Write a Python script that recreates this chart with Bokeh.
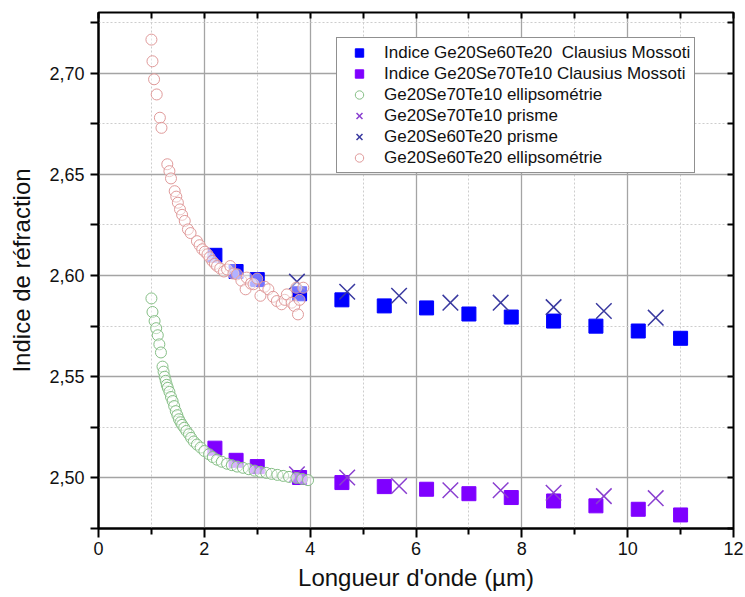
from bokeh.plotting import figure
from bokeh.models import (LinearAxis, FixedTicker, CustomJSTickFormatter, Legend,
                          LegendItem, Range1d, CustomLabelingPolicy)
from bokeh.embed import file_html
from bokeh.resources import INLINE

# ---- data ----
cm_x = [2.2, 2.6, 3.0, 3.8, 4.6, 5.4, 6.2, 7.0, 7.8, 8.6, 9.4, 10.2, 11.0]
cm_6020_y = [2.610, 2.602, 2.598, 2.591, 2.588, 2.585, 2.584, 2.581, 2.5795,
             2.5775, 2.575, 2.5726, 2.569]
cm_7010_y = [2.5147, 2.5087, 2.5056, 2.5002, 2.4977, 2.4957, 2.4944, 2.4922,
             2.4903, 2.4886, 2.4862, 2.4845, 2.4817]

prism_x = [3.75, 4.7, 5.68, 6.65, 7.6, 8.6, 9.55, 10.53]
prism_6020_y = [2.597, 2.592, 2.590, 2.5866, 2.5866, 2.5844, 2.5825, 2.5792]
prism_7010_y = [2.5018, 2.5002, 2.4960, 2.4939, 2.4939, 2.4927, 2.4910, 2.4900]

ell_7010_x = [1.00, 1.02, 1.06, 1.09, 1.12, 1.15, 1.18, 1.21, 1.23, 1.25, 1.27,
              1.29, 1.31, 1.34, 1.37, 1.40, 1.43, 1.46, 1.49, 1.52, 1.55, 1.58,
              1.62, 1.66, 1.71, 1.75, 1.80, 1.86, 1.93, 2.00, 2.09, 2.16, 2.24,
              2.33, 2.43, 2.52, 2.62, 2.73, 2.84, 2.95, 3.06, 3.17, 3.27, 3.38,
              3.49, 3.60, 3.74, 3.85, 3.96]
ell_7010_y = [2.5887, 2.5820, 2.5775, 2.5740, 2.5705, 2.5660, 2.5620, 2.5550,
              2.5525, 2.5500, 2.5480, 2.5460, 2.5445, 2.5425, 2.5400, 2.5380,
              2.5355, 2.5330, 2.5310, 2.5290, 2.5275, 2.5262, 2.5248, 2.5232,
              2.5216, 2.5198, 2.5180, 2.5165, 2.5150, 2.5133, 2.5117, 2.5103,
              2.5090, 2.5080, 2.5070, 2.5063, 2.5056, 2.5050, 2.5043, 2.5036,
              2.5030, 2.5025, 2.5020, 2.5015, 2.5010, 2.5005, 2.5000, 2.4995,
              2.4989]

ell_6020_x = [1.00, 1.02, 1.05, 1.10, 1.16, 1.19, 1.30, 1.34, 1.37, 1.44, 1.47,
              1.50, 1.54, 1.58, 1.63, 1.69, 1.74, 1.86, 1.91, 1.96, 2.01, 2.06,
              2.10, 2.15, 2.20, 2.24, 2.30, 2.37, 2.43, 2.49, 2.55, 2.62, 2.70,
              2.78, 2.80, 2.88, 2.93, 3.00, 3.06, 3.14, 3.21, 3.30, 3.37, 3.46,
              3.52, 3.56, 3.65, 3.70, 3.74, 3.77, 3.80, 3.87]
ell_6020_y = [2.7166, 2.7059, 2.6970, 2.6895, 2.6780, 2.6730, 2.6550, 2.6516,
              2.6480, 2.6417, 2.6390, 2.6360, 2.6327, 2.6300, 2.6270, 2.6228,
              2.6210, 2.6170, 2.6150, 2.6130, 2.6118, 2.6105, 2.6090, 2.6072,
              2.6058, 2.6047, 2.6035, 2.6020, 2.6030, 2.6047, 2.6010, 2.6006,
              2.5975, 2.5932, 2.5990, 2.5960, 2.5957, 2.5985, 2.5900, 2.5945,
              2.5932, 2.5895, 2.5874, 2.5858, 2.5880, 2.5907, 2.5866, 2.5850,
              2.5940, 2.5808, 2.5880, 2.5940]

x_ticks = [0, 2, 4, 6, 8, 10, 12]
x_minor = [1, 3, 5, 7, 9, 11]
y_ticks = [2.50, 2.55, 2.60, 2.65, 2.70]
y_minor = [2.475, 2.525, 2.575, 2.625, 2.675, 2.725]

labels = ["Indice Ge20Se60Te20  Clausius Mossoti",
          "Indice Ge20Se70Te10 Clausius Mossoti",
          "Ge20Se70Te10 ellipsom\u00e9trie",
          "Ge20Se70Te10 prisme",
          "Ge20Se60Te20 prisme",
          "Ge20Se60Te20 ellipsom\u00e9trie"]

FONT = "Liberation Sans"

p = figure(width=744, height=596, output_backend="svg", toolbar_location=None,
           x_range=Range1d(0, 12), y_range=Range1d(2.475, 2.73),
           min_border_left=98, min_border_right=11, min_border_top=12,
           min_border_bottom=68, background_fill_color="white",
           border_fill_color="white")
p.outline_line_color = "black"
p.outline_line_width = 2

# grids
p.xgrid.ticker = FixedTicker(ticks=x_ticks, minor_ticks=x_minor)
p.ygrid.ticker = FixedTicker(ticks=y_ticks, minor_ticks=y_minor)
for g in (p.xgrid, p.ygrid):
    g.grid_line_color = "#a4a4a4"
    g.grid_line_width = 1.3
    g.minor_grid_line_color = "#cdcdcd"
    g.minor_grid_line_dash = "2 2"
    g.minor_grid_line_width = 1

# axes
xa = p.xaxis[0]
xa.ticker = FixedTicker(ticks=x_ticks, minor_ticks=x_minor)
xa.axis_label = "Longueur d'onde (\u00b5m)"
ya = p.yaxis[0]
ya.ticker = FixedTicker(ticks=y_ticks, minor_ticks=y_minor)
ya.formatter = CustomJSTickFormatter(code="return tick.toFixed(2).replace('.', ',');")
ya.axis_label = "Indice de r\u00e9fraction"
for a in (xa, ya):
    a.axis_line_width = 2
    a.axis_line_color = "black"
    a.major_tick_line_width = 2
    a.minor_tick_line_width = 2
    a.major_tick_in = 0
    a.minor_tick_in = 0
    a.major_label_text_font = FONT
    a.major_label_text_font_size = "18px"
    a.major_label_text_color = "#111111"
    a.axis_label_text_font = FONT
    a.axis_label_text_font_size = "24px"
    a.axis_label_text_font_style = "normal"
    a.axis_label_text_color = "#111111"
xa.major_tick_out = 9
xa.minor_tick_out = 6
xa.major_label_standoff = 4
xa.axis_label_standoff = 6
ya.major_tick_out = 8
ya.minor_tick_out = 8
ya.major_label_standoff = 6
ya.axis_label_standoff = 11

no_labels = CustomLabelingPolicy(
    code="for (const i of Array.from(indices)) { indices.unset(i) } return indices")
top = LinearAxis(ticker=FixedTicker(ticks=x_ticks, minor_ticks=x_minor))
right = LinearAxis(ticker=FixedTicker(ticks=y_ticks, minor_ticks=y_minor))
for a in (top, right):
    a.axis_line_color = None
    a.major_tick_out = 0
    a.minor_tick_out = 0
    a.major_tick_in = 6
    a.minor_tick_in = 6
    a.major_tick_line_width = 2
    a.minor_tick_line_width = 2
    a.major_label_text_font_size = "1px"
    a.major_label_standoff = 0
    a.major_label_policy = no_labels
p.add_layout(top, "above")
p.add_layout(right, "right")

# glyphs
r_cm6020 = p.scatter(cm_x, cm_6020_y, marker="square", size=14,
                     fill_color="#0000ff", line_color="#0000ff")
r_cm7010 = p.scatter(cm_x, cm_7010_y, marker="square", size=14,
                     fill_color="#7f00ff", line_color="#7f00ff")
r_pr7010 = p.scatter(prism_x, prism_7010_y, marker="x", size=22,
                     line_color="#8a3fd0", line_width=1.5)
r_pr6020 = p.scatter(prism_x, prism_6020_y, marker="x", size=22,
                     line_color="#3a3aa0", line_width=1.5)
r_el7010 = p.scatter(ell_7010_x, ell_7010_y, marker="circle", size=11,
                     fill_color="white", fill_alpha=0.45,
                     line_color="#86bf86", line_width=1)
r_el6020 = p.scatter(ell_6020_x, ell_6020_y, marker="circle", size=11,
                     fill_color="white", fill_alpha=0.45,
                     line_color="#e09a9a", line_width=1)

legend = Legend(items=[
    LegendItem(label=labels[0], renderers=[r_cm6020]),
    LegendItem(label=labels[1], renderers=[r_cm7010]),
    LegendItem(label=labels[2], renderers=[r_el7010]),
    LegendItem(label=labels[3], renderers=[r_pr7010]),
    LegendItem(label=labels[4], renderers=[r_pr6020]),
    LegendItem(label=labels[5], renderers=[r_el6020]),
], location=(238, 355))
legend.border_line_color = "#222222"
legend.border_line_width = 1.5
legend.background_fill_color = "white"
legend.background_fill_alpha = 1
legend.padding = 4
legend.spacing = 0
legend.margin = 0
legend.glyph_width = 36
legend.glyph_height = 21
legend.label_height = 21
legend.label_standoff = 7
legend.label_text_font = FONT
legend.label_text_font_size = "17px"
legend.label_text_color = "#111111"
p.add_layout(legend, "center")

open("out.html", "w").write(file_html(p, INLINE))
